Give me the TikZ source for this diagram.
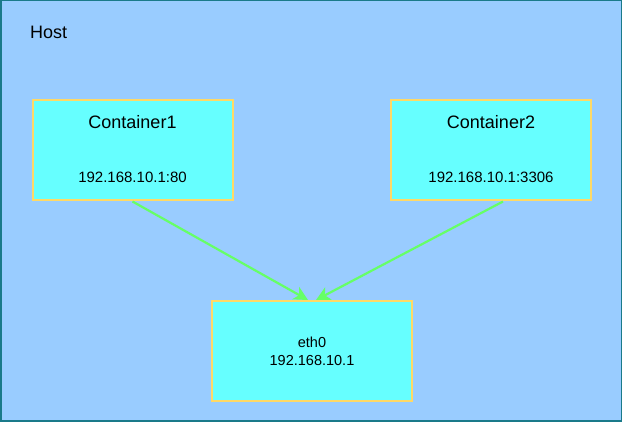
\documentclass[tikz,border=0pt]{standalone}
\usepackage{fontspec}
\setmainfont{Liberation Sans}
\usetikzlibrary{arrows.meta}
\definecolor{hostfill}{HTML}{99CCFF}
\definecolor{hostline}{HTML}{1A7A8A}
\definecolor{boxfill}{HTML}{66FFFF}
\definecolor{boxline}{HTML}{FFD966}
\definecolor{arrowcol}{HTML}{66FF66}
\tikzset{
  hostbox/.style={draw=hostline, fill=hostfill, line width=1.5pt},
  cbox/.style={draw=boxline, fill=boxfill, line width=2pt, minimum width=200pt, minimum height=100pt, inner sep=0pt},
  link/.style={draw=arrowcol, line width=2.2pt, -{Stealth[length=14pt,width=14pt,inset=4pt]}},
  big/.style={font=\fontsize{18}{21}\selectfont},
  mid/.style={font=\fontsize{15}{18}\selectfont},
  small/.style={font=\fontsize{14.5}{18}\selectfont},
}
\begin{document}
\begin{tikzpicture}[x=1pt,y=-1pt]
\useasboundingbox (0,0) rectangle (622,422);
\draw[hostbox] (0.75,0.75) rectangle (621.25,421.25);
\node[big, anchor=west, inner sep=0pt] (host) at (30,32) {Host};
\node[cbox] (c1) at (132.5,150.5) {};
\node[cbox] (c2) at (491,150.5) {};
\node[cbox] (eth) at (312,351) {};
\node[big] (c1t) at (132.5,122) {Container1};
\node[mid] (c1ip) at (132.5,177) {192.168.10.1:80};
\node[big] (c2t) at (491,122) {Container2};
\node[mid] (c2ip) at (491,177) {192.168.10.1:3306};
\node[small, align=center] (etht) at (312,351) {eth0\\192.168.10.1};
\draw[link] (c1.south) -- ([xshift=-4pt]eth.north);
\draw[link] ([xshift=12pt]c2.south) -- ([xshift=4pt]eth.north);
\end{tikzpicture}
\end{document}
